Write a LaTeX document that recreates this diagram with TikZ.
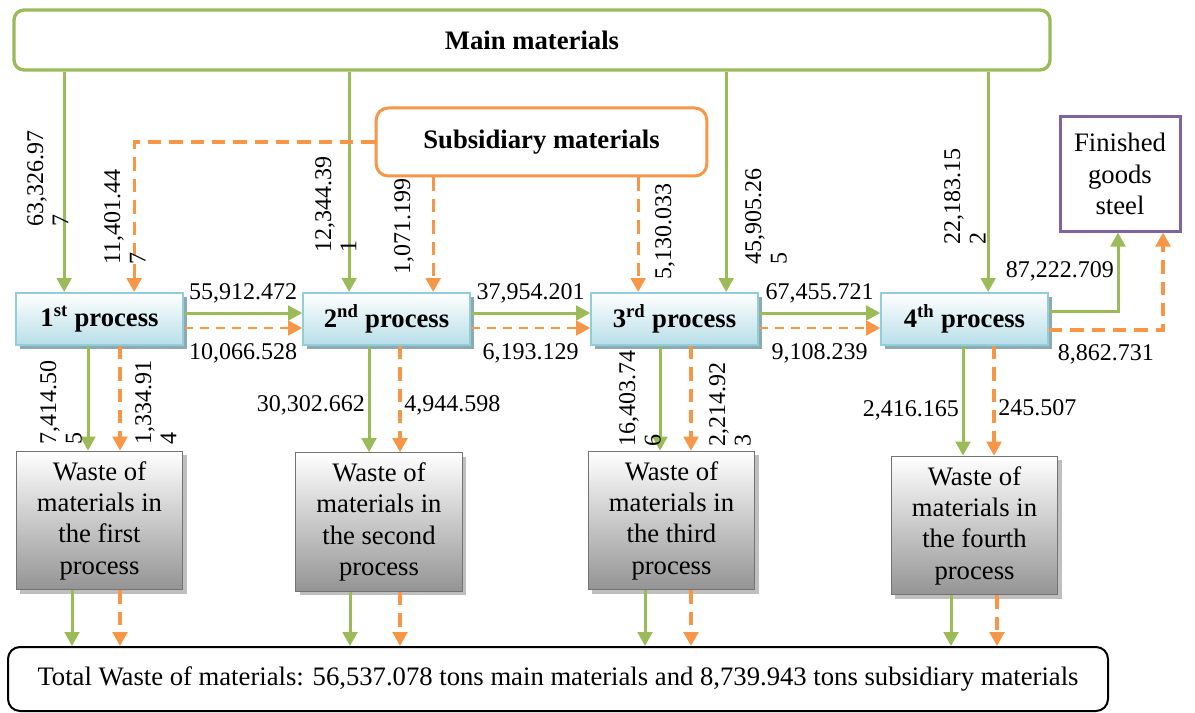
\documentclass[tikz,border=0pt]{standalone}
\usepackage{fontspec}
\setmainfont{Liberation Serif}
\usepackage{tikz}
\usetikzlibrary{arrows.meta}
\usetikzlibrary{calc}
\usetikzlibrary{shadows}

\definecolor{mgreen}{HTML}{9BBB59}
\definecolor{sorange}{HTML}{F79646}
\definecolor{gpurple}{HTML}{8064A2}
\definecolor{pborder}{HTML}{92CDDC}
\definecolor{pfill}{HTML}{B7DEE8}
\definecolor{pshadow}{HTML}{8DA9B2}

\tikzset{
  mainbox/.style={draw=mgreen, line width=2.5pt, rounded corners=7.5pt,
    font=\fontsize{20}{24}\selectfont\bfseries},
  subbox/.style={draw=sorange, line width=2.25pt, rounded corners=9pt,
    font=\fontsize{20}{24}\selectfont\bfseries},
  goodsbox/.style={draw=gpurple, line width=2.25pt, align=center,
    font=\fontsize{20}{23.5}\selectfont},
  procbox/.style={draw=pborder, line width=1.5pt, top color=white,
    bottom color=pfill, minimum width=125pt, minimum height=39pt,
    font=\fontsize{20}{24}\selectfont\bfseries,
    drop shadow={shadow xshift=3pt, shadow yshift=-3pt, fill=pshadow, opacity=1}},
  wastebox/.style={draw=black!55, line width=0.8pt, top color=white,
    bottom color=black!42, minimum width=125pt, minimum height=104pt,
    align=center, font=\fontsize{20}{23.5}\selectfont,
    drop shadow={shadow xshift=3pt, shadow yshift=-3pt, fill=black!25, opacity=1}},
  totalbox/.style={draw=black, line width=1.5pt, rounded corners=9pt,
    minimum width=825pt, minimum height=48pt, font=\fontsize{20}{24}\selectfont},
  mainflow/.style={draw=mgreen, line width=2.25pt,
    -{Triangle[length=10.5pt,width=11pt]}},
  subflow/.style={draw=sorange, line width=2.4pt, dash pattern=on 10pt off 6pt,
    -{Triangle[length=10.5pt,width=11pt]}},
  subthin/.style={draw=sorange, line width=2pt, dash pattern=on 7pt off 5pt,
    -{Triangle[length=10.5pt,width=11pt]}},
  num/.style={text=black, inner sep=2pt, font=\fontsize{18}{21}\selectfont},
  vnum/.style={rotate=90, align=left, inner sep=0pt, anchor=north west,
    font=\fontsize{18}{19}\selectfont}
}

\begin{document}
\begin{tikzpicture}[x=0.75pt, y=-0.75pt]
\useasboundingbox (0,0) rectangle (1195,713);

% boxes
\node[mainbox, minimum width=777pt, minimum height=45pt] (main) at (532,40) {Main materials};
\node[subbox, minimum width=248pt, minimum height=51pt] (sub) at (541.5,142) {Subsidiary materials};
\node[goodsbox, minimum width=90pt, minimum height=85.5pt] (goods) at (1120,174) {Finished\\goods\\steel};

\node[procbox] (p1) at (99.5,319) {1\textsuperscript{st} process};
\node[procbox] (p2) at (386.5,319) {2\textsuperscript{nd} process};
\node[procbox] (p3) at (674.5,319) {3\textsuperscript{rd} process};
\node[procbox] (p4) at (964.5,319) {4\textsuperscript{th} process};

\node[wastebox] (w1) at (99.5,520.5) {Waste of\\materials in\\the first\\process};
\node[wastebox] (w2) at (379,522) {Waste of\\materials in\\the second\\process};
\node[wastebox] (w3) at (671.5,520.5) {Waste of\\materials in\\the third\\process};
\node[wastebox] (w4) at (974.5,525.5) {Waste of\\materials in\\the fourth\\process};

\node[totalbox] (total) at (558,679) {Total Waste of materials: 56,537.078 tons main materials and 8,739.943 tons subsidiary materials};

% main materials into the processes
\coordinate (m1) at ($(p1.north west)+(49,0)$);
\coordinate (m2) at ($(p2.north west)+(47,0)$);
\coordinate (m3) at ($(p3.north west)+(136,0)$);
\coordinate (m4) at ($(p4.north west)+(108,0)$);
\draw[mainflow] (main.south -| m1) -- (m1);
\draw[mainflow] (main.south -| m2) -- (m2);
\draw[mainflow] (main.south -| m3) -- (m3);
\draw[mainflow] (main.south -| m4) -- (m4);

% subsidiary materials into the processes
\coordinate (s1) at ($(p1.north west)+(119,0)$);
\coordinate (s2) at ($(p2.north west)+(131,0)$);
\coordinate (s3) at ($(p3.north west)+(48,0)$);
\draw[subflow] (sub.west) -| (s1);
\draw[subflow] (sub.south -| s2) -- (s2);
\draw[subflow] (sub.south -| s3) -- (s3);

% process to process
\draw[mainflow] ([yshift=4.5pt]p1.east) -- node[num, above=4.5pt]{55,912.472} ([yshift=4.5pt]p2.west);
\draw[subthin] ([yshift=-6.75pt]p1.east) -- node[num, below=9pt]{10,066.528} ([yshift=-6.75pt]p2.west);
\draw[mainflow] ([yshift=4.5pt]p2.east) -- node[num, above=4.5pt]{37,954.201} ([yshift=4.5pt]p3.west);
\draw[subthin] ([yshift=-6.75pt]p2.east) -- node[num, below=9pt]{6,193.129} ([yshift=-6.75pt]p3.west);
\draw[mainflow] ([yshift=4.5pt]p3.east) -- node[num, above=4.5pt]{67,455.721} ([yshift=4.5pt]p4.west);
\draw[subthin] ([yshift=-6.75pt]p3.east) -- node[num, below=9pt]{9,108.239} ([yshift=-6.75pt]p4.west);

% last process to finished goods
\coordinate (f1) at ($(goods.south)+(-2,0)$);
\coordinate (f2) at ($(goods.south)+(43,0)$);
\draw[mainflow] ([yshift=6pt]p4.east) -| node[num, left, pos=.75]{87,222.709} (f1);
\draw[subflow] ([yshift=-8.25pt]p4.east) -| node[num, below=8pt, pos=.25]{8,862.731} (f2);

% processes to their waste
\coordinate (g1) at ($(p1.south)+(-11.5,0)$);
\coordinate (o1) at ($(p1.south)+(20.5,0)$);
\coordinate (g2) at ($(p2.south)+(-17.5,0)$);
\coordinate (o2) at ($(p2.south)+(13.5,0)$);
\coordinate (g3) at ($(p3.south)+(-14.5,0)$);
\coordinate (o3) at ($(p3.south)+(16.5,0)$);
\coordinate (g4) at ($(p4.south)+(-1.5,0)$);
\coordinate (o4) at ($(p4.south)+(29.5,0)$);
\draw[mainflow] (g1) -- (g1 |- w1.north);
\draw[subflow] (o1) -- (o1 |- w1.north);
\draw[mainflow] (g2) -- node[num, left, pos=.56]{30,302.662} (g2 |- w2.north);
\draw[subflow] (o2) -- node[num, right, pos=.56]{4,944.598} (o2 |- w2.north);
\draw[mainflow] (g3) -- (g3 |- w3.north);
\draw[subflow] (o3) -- (o3 |- w3.north);
\draw[mainflow] (g4) -- node[num, left, pos=.59]{2,416.165} (g4 |- w4.north);
\draw[subflow] (o4) -- node[num, right, pos=.56]{245.507} (o4 |- w4.north);

% waste to the total
\coordinate (h1) at ($(w1.south)+(-27.5,0)$);
\coordinate (k1) at ($(w1.south)+(20.5,0)$);
\coordinate (h2) at ($(w2.south)+(-29,0)$);
\coordinate (k2) at ($(w2.south)+(21,0)$);
\coordinate (h3) at ($(w3.south)+(-26.5,0)$);
\coordinate (k3) at ($(w3.south)+(19.5,0)$);
\coordinate (h4) at ($(w4.south)+(-23.5,0)$);
\coordinate (k4) at ($(w4.south)+(22.5,0)$);
\draw[mainflow] (h1) -- (h1 |- total.north);
\draw[subflow] (k1) -- (k1 |- total.north);
\draw[mainflow] (h2) -- (h2 |- total.north);
\draw[subflow] (k2) -- (k2 |- total.north);
\draw[mainflow] (h3) -- (h3 |- total.north);
\draw[subflow] (k3) -- (k3 |- total.north);
\draw[mainflow] (h4) -- (h4 |- total.north);
\draw[subflow] (k4) -- (k4 |- total.north);

% upright numbers
\node[vnum] (n1) at (27,227) {63,326.97\\7};
\node[vnum] (n2) at (104,265) {11,401.44\\7};
\node[vnum] (n3) at (315,253) {12,344.39\\1};
\node[vnum] (n4) at (394,275) {1,071.199};
\node[vnum] (n5) at (655,280) {5,130.033};
\node[vnum] (n6) at (745,265) {45,905.26\\5};
\node[vnum] (n7) at (944,245) {22,183.15\\2};
\node[vnum] (n8) at (40,445) {7,414.50\\5};
\node[vnum] (n9) at (135,445) {1,334.91\\4};
\node[vnum] (n10) at (619,447) {16,403.74\\6};
\node[vnum] (n11) at (709,447) {2,214.92\\3};
\end{tikzpicture}
\end{document}
